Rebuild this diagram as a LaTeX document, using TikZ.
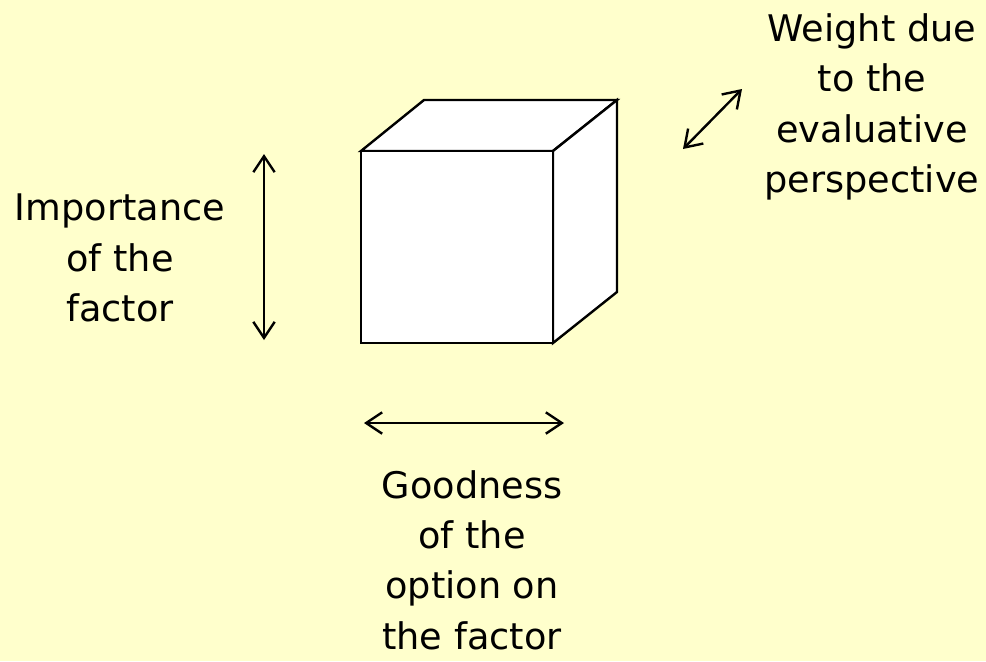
\documentclass[tikz,border=0pt]{standalone}
\usepackage{fontspec}
\setmainfont{DejaVu Sans}
\usetikzlibrary{arrows.meta}
\definecolor{bgyellow}{HTML}{FFFFCC}
\tikzset{
  cubeline/.style={line width=1.8pt, line join=miter, fill=white},
  dimarrow/.style={line width=1.8pt, {Straight Barb[length=12pt,width=16pt,line width=1.8pt]}-{Straight Barb[length=12pt,width=16pt,line width=1.8pt]}},
  label/.style={align=center, inner sep=0pt, font=\fontsize{27.5}{37.8}\selectfont}
}
\begin{document}
\begin{tikzpicture}[x=0.75pt,y=-0.75pt]
\fill[bgyellow] (0,0) rectangle (986,661);
\useasboundingbox (0,0) rectangle (986,661);
% cube
\coordinate (fa) at (361,151);
\coordinate (fb) at (553,151);
\coordinate (fc) at (553,343);
\coordinate (fd) at (361,343);
\coordinate (ba) at (424,100);
\coordinate (bb) at (617,100);
\coordinate (bc) at (617,292);
\draw[cubeline] (fa) -- (ba) -- (bb) -- (fb) -- cycle;
\draw[cubeline] (fb) -- (bb) -- (bc) -- (fc) -- cycle;
\draw[cubeline] (fa) rectangle (fc);
% arrows
\coordinate (v1) at (264,154);
\coordinate (v2) at (264,340);
\coordinate (h1) at (364,423);
\coordinate (h2) at (564,423);
\coordinate (d1) at (683,149);
\coordinate (d2) at (742,89);
\draw[dimarrow] (v1) -- (v2);
\draw[dimarrow] (h1) -- (h2);
\draw[dimarrow] (d1) -- (d2);
% labels
\node[label] (imp) at (120,258) {Importance\\of the\\factor};
\node[label] (wt) at (872,107) {Weight due\\to the\\evaluative\\perspective};
\node[label] (good) at (472,560) {Goodness\\of the\\option on\\the factor};
\end{tikzpicture}
\end{document}
